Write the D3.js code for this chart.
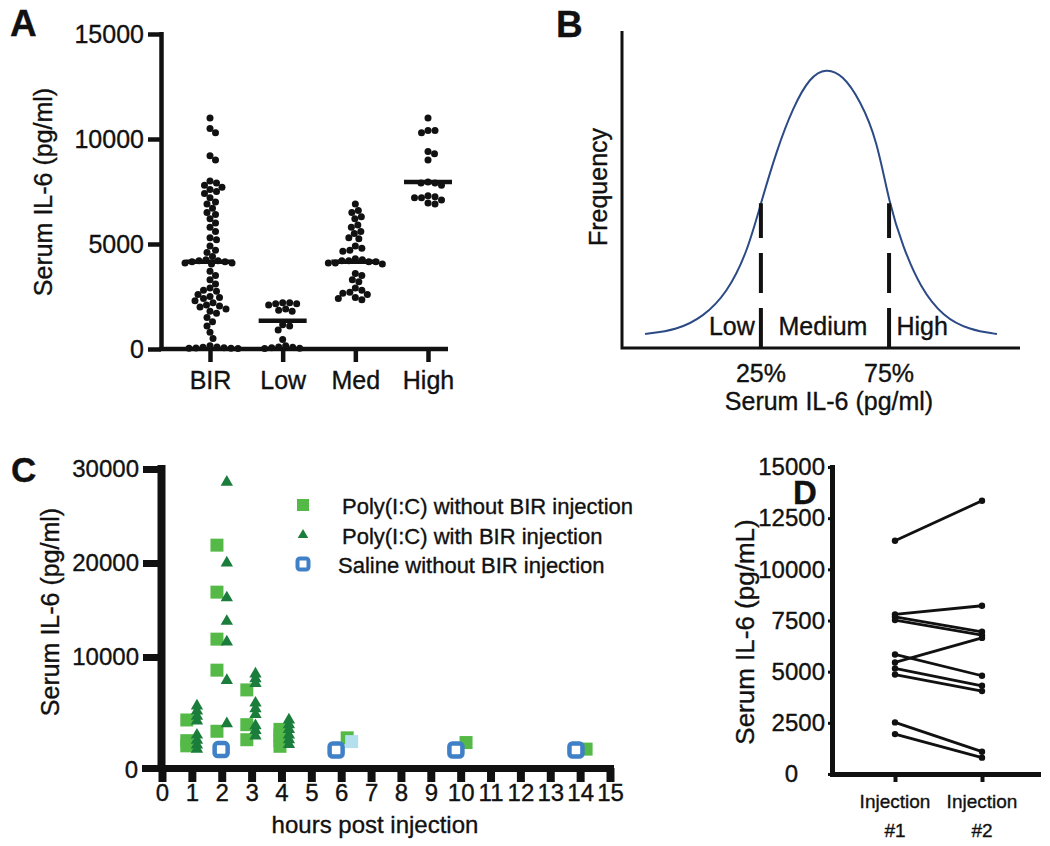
<!DOCTYPE html>
<html>
<head>
<meta charset="UTF-8">
<title>Serum IL-6 panels</title>
<style>
  body { margin: 0; background: #fff; }
  svg { display: block; font-family: "Liberation Sans", Arial, sans-serif; }
  svg text { stroke: #111; stroke-width: 0.35px; }
</style>
</head>
<body>
<script src="https://d3js.org/d3.v7.min.js"></script>
<script>
// ---------- panel A : serum IL-6 by group (pg/ml) ----------
var groupsA = ["BIR", "Low", "Med", "High"];
var birVals = [11000, 10500, 10300, 9200, 9000, 8000, 7900, 7800, 7700, 7600, 7500, 7400, 7200, 7000,
  6900, 6700, 6500, 6400, 6200, 6000, 5800, 5600, 5300, 5200, 4900, 4700, 4600, 4400, 4250, 4200,
  4200, 4150, 4150, 4100, 4100, 4050, 3700, 3500, 3300, 3100, 2900, 2800, 2750, 2600, 2500, 2450,
  2400, 2300, 2200, 2100, 2050, 2000, 1900, 1800, 1700, 1500, 1300, 1100, 800, 500, 150, 100, 80,
  60, 50, 40, 30, 20];
var lowVals = [2200, 2200, 2150, 2150, 2100, 1900, 1850, 1800, 1150, 1100, 900, 450, 150, 100, 80, 60, 40, 20];
var medVals = [6900, 6600, 6500, 6300, 6200, 5900, 5800, 5600, 5500, 5300, 5250, 4900, 4800, 4700, 4650,
  4300, 4250, 4200, 4200, 4150, 4150, 4100, 4100, 4050, 3600, 3500, 3300, 3200, 2900, 2800, 2700,
  2650, 2600, 2450, 2400, 2350];
var highVals = [11000, 10400, 10400, 10300, 9400, 9300, 9000, 7950, 7900, 7900, 7800, 7300, 7250, 7200,
  7200, 7100, 6950, 6900];
var mediansA = [4150, 1350, 4150, 7950];
var ticksA = [0, 5000, 10000, 15000];

// ---------- panel B : schematic distribution ----------
var curveX = [5.8, 13.8, 20.4, 26.4, 31.4, 34.9, 38.9, 43.0, 47.2, 51.3, 55.5, 59.8, 64.1, 67.1, 70.6, 74.9, 80.7, 87.4, 94.2];
var curveY = [4.4, 5.7, 9.8, 17.4, 30.0, 45.7, 62.5, 76.0, 85.5, 88.3, 86.1, 78.2, 65.6, 45.7, 31.9, 19.2, 9.8, 5.7, 4.4];
var quartileLabels = ["25%", "75%"];
var quartileX = [34.9, 67.1];
var quartileTop = [45.7, 45.7];
var regionLabels = ["Low", "Medium", "High"];
var regionX = [27.6, 50.5, 75.4];

// ---------- panel C : time course ([hour, pg/ml]) ----------
var polyNoBir = [[0.83, 3300], [0.83, 1100], [0.83, 550],
  [1.84, 21900], [1.84, 16900], [1.84, 11900], [1.84, 8600], [1.84, 2100],
  [2.84, 6500], [2.84, 2800], [2.84, 1200],
  [3.95, 2300], [3.95, 1700], [3.95, 1100], [3.95, 500],
  [6.2, 1400], [10.18, 900], [14.2, 200]];
var polyBir = [[1.17, 4800], [1.17, 4250], [1.17, 3700], [1.17, 3200], [1.17, 1700], [1.17, 1150], [1.17, 650], [1.17, 200],
  [2.17, 28600], [2.17, 20000], [2.17, 16300], [2.17, 13800], [2.17, 11600], [2.17, 7500], [2.17, 2900],
  [3.13, 8200], [3.13, 7700], [3.13, 7200], [3.13, 5100], [3.13, 4500], [3.13, 3900], [3.13, 2700], [3.13, 2200], [3.13, 1600],
  [4.25, 3300], [4.25, 2800], [4.25, 2300], [4.25, 1700], [4.25, 1200], [4.25, 700]];
var salineNoBir = [[1.98, 150], [5.83, 100], [9.84, 100], [13.86, 100]];
var salineExtra = [[6.35, 1000]];
var legendC = ["Poly(I:C) without BIR injection", "Poly(I:C) with BIR injection", "Saline without BIR injection"];
var hoursC = d3.range(0, 16);
var ticksC = [10000, 20000, 30000];

// ---------- panel D : paired injections (pg/mL) ----------
var injLabels = ["Injection #1", "Injection #2"];
var inj1 = [11400, 7800, 7680, 7520, 5450, 5840, 5160, 4860, 2520, 1950];
var inj2 = [13350, 8220, 6950, 6780, 6650, 4800, 4310, 4050, 1090, 800];
var ticksD = [0, 2500, 5000, 7500, 10000, 12500, 15000];

var ink = "#111";
var svg = d3.select("body").append("svg")
  .attr("width", 1050).attr("height", 846);

function panelLetter(t, x, y, size) {
  svg.append("text").attr("x", x).attr("y", y)
    .attr("font-size", size).attr("font-weight", "bold").attr("fill", ink).text(t);
}
function yLabel(t, x, y, size) {
  svg.append("text")
    .attr("transform", "translate(" + x + "," + y + ") rotate(-90)")
    .attr("text-anchor", "middle").attr("dominant-baseline", "central")
    .attr("font-size", size).attr("fill", ink).text(t);
}
function styleAxis(g, size, tickW) {
  g.select(".domain").remove();
  g.selectAll(".tick line").attr("stroke", ink).attr("stroke-width", tickW);
  g.selectAll(".tick text").attr("fill", ink).attr("font-size", size)
    .attr("font-family", "'Liberation Sans', Arial, sans-serif");
}

// simple beeswarm: nudge each dot sideways until it clears the others
function swarm(vals, cx, yScale, r) {
  var placed = [];
  vals.slice().sort(function(a, b) { return b - a; }).forEach(function(v) {
    var y = yScale(v), k = 0, x;
    while (true) {
      x = cx + (k % 2 === 1 ? 1 : -1) * Math.ceil(k / 2) * 0.5;
      var ok = placed.every(function(p) {
        return (p.x - x) * (p.x - x) + (p.y - y) * (p.y - y) >= 4 * r * r * 0.95;
      });
      if (ok) break;
      k++;
    }
    placed.push({x: x, y: y});
  });
  return placed;
}

// ================= A =================
panelLetter("A", 10, 36, 37);
var yA = d3.scaleLinear().domain([0, 15000]).range([349, 34]);
var xA = d3.scalePoint().domain(groupsA).range([210, 428]);

svg.append("line").attr("x1", 161.5).attr("x2", 161.5).attr("y1", 32).attr("y2", 351)
  .attr("stroke", ink).attr("stroke-width", 4.5);
svg.append("line").attr("x1", 159).attr("x2", 448).attr("y1", 349).attr("y2", 349)
  .attr("stroke", ink).attr("stroke-width", 4.5);

var gAy = svg.append("g").attr("transform", "translate(161,0)")
  .call(d3.axisLeft(yA).tickValues(ticksA).tickFormat(d3.format("d")).tickSize(13).tickPadding(4));
styleAxis(gAy, 25, 4.5);
var gAx = svg.append("g").attr("transform", "translate(0,349)")
  .call(d3.axisBottom(xA).tickSize(13).tickPadding(9));
styleAxis(gAx, 25, 4.5);

var seriesA = [birVals, lowVals, medVals, highVals];
seriesA.forEach(function(vals, i) {
  var pts = swarm(vals, xA(groupsA[i]), yA, 3.5);
  svg.append("g").selectAll("circle").data(pts).enter().append("circle")
    .attr("cx", function(d) { return d.x; })
    .attr("cy", function(d) { return d.y; })
    .attr("r", 3.5).attr("fill", ink);
  svg.append("line")
    .attr("x1", xA(groupsA[i]) - 24).attr("x2", xA(groupsA[i]) + 24)
    .attr("y1", yA(mediansA[i])).attr("y2", yA(mediansA[i]))
    .attr("stroke", ink).attr("stroke-width", 4.5);
});
yLabel("Serum IL-6 (pg/ml)", 43, 192, 25);

// ================= B =================
panelLetter("B", 556, 37, 37);
var xB = d3.scaleLinear().domain([0, 100]).range([622, 1020]);
var yB = d3.scaleLinear().domain([0, 100]).range([348, 31]);
svg.append("path")
  .attr("d", "M" + xB(0) + "," + yB(100) + "V" + yB(0) + "H" + xB(100))
  .attr("fill", "none").attr("stroke", ink).attr("stroke-width", 3);

var curvePts = curveX.map(function(x, i) { return [x, curveY[i]]; });
svg.append("path").datum(curvePts)
  .attr("d", d3.line().x(function(d) { return xB(d[0]); }).y(function(d) { return yB(d[1]); })
    .curve(d3.curveBasis))
  .attr("fill", "none").attr("stroke", "#2c4a86").attr("stroke-width", 2);

quartileX.forEach(function(q, i) {
  svg.append("line")
    .attr("x1", xB(q)).attr("x2", xB(q)).attr("y1", yB(0)).attr("y2", yB(quartileTop[i]))
    .attr("stroke", ink).attr("stroke-width", 4).attr("stroke-dasharray", "40,15");
  svg.append("text").attr("x", xB(q)).attr("y", 382).attr("text-anchor", "middle")
    .attr("font-size", 25).attr("fill", ink).text(quartileLabels[i]);
});
regionLabels.forEach(function(t, i) {
  svg.append("text").attr("x", xB(regionX[i])).attr("y", 335).attr("text-anchor", "middle")
    .attr("font-size", 25).attr("fill", ink).text(t);
});
svg.append("text").attr("x", 829).attr("y", 410).attr("text-anchor", "middle")
  .attr("font-size", 25).attr("fill", ink).text("Serum IL-6 (pg/ml)");
yLabel("Frequency", 598, 187, 25);

// ================= C =================
panelLetter("C", 11, 482, 35);
var xC = d3.scaleLinear().domain([0, 15]).range([162, 610]);
var yC = d3.scaleLinear().domain([0, 30000]).range([751, 469]);

svg.append("line").attr("x1", 161.5).attr("x2", 161.5).attr("y1", 465).attr("y2", 772)
  .attr("stroke", ink).attr("stroke-width", 8);
svg.append("line").attr("x1", 142).attr("x2", 614).attr("y1", 768.5).attr("y2", 768.5)
  .attr("stroke", ink).attr("stroke-width", 7);
var gCy = svg.append("g").attr("transform", "translate(161,0)")
  .call(d3.axisLeft(yC).tickValues(ticksC).tickFormat(d3.format("d")).tickSize(18).tickPadding(4));
styleAxis(gCy, 24, 7);
svg.append("text").attr("x", 138).attr("y", 769).attr("text-anchor", "end")
  .attr("dominant-baseline", "central").attr("font-size", 24).attr("fill", ink).text("0");
var gCx = svg.append("g").attr("transform", "translate(0,768)")
  .call(d3.axisBottom(xC).tickValues(hoursC).tickFormat(d3.format("d")).tickSize(14).tickPadding(2));
styleAxis(gCx, 24, 8);
svg.append("text").attr("x", 375).attr("y", 833).attr("text-anchor", "middle")
  .attr("font-size", 24).attr("fill", ink).text("hours post injection");
yLabel("Serum IL-6 (pg/ml)", 50, 612, 25);

var sq = d3.symbol(d3.symbolSquare, 169);
var tri = d3.symbol(d3.symbolTriangle, 66);
svg.append("g").selectAll("path").data(polyNoBir).enter().append("path")
  .attr("d", sq).attr("fill", "#55b948")
  .attr("transform", function(d) { return "translate(" + xC(d[0]) + "," + yC(d[1]) + ")"; });
svg.append("g").selectAll("path").data(salineExtra).enter().append("path")
  .attr("d", sq).attr("fill", "#b3e0ec")
  .attr("transform", function(d) { return "translate(" + xC(d[0]) + "," + yC(d[1]) + ")"; });
svg.append("g").selectAll("path").data(polyBir).enter().append("path")
  .attr("d", tri).attr("fill", "#1b7d3b")
  .attr("transform", function(d) { return "translate(" + xC(d[0]) + "," + yC(d[1]) + ")"; });
svg.append("g").selectAll("rect").data(salineNoBir).enter().append("rect")
  .attr("x", function(d) { return xC(d[0]) - 6.5; })
  .attr("y", function(d) { return yC(d[1]) - 6.5; })
  .attr("width", 13).attr("height", 13).attr("rx", 3)
  .attr("fill", "#fff").attr("stroke", "#3f80c6").attr("stroke-width", 4.5);

// legend
var legY = [505, 535, 564];
svg.append("rect").attr("x", 297).attr("y", legY[0] - 6).attr("width", 12).attr("height", 12).attr("fill", "#55b948");
svg.append("path").attr("d", d3.symbol(d3.symbolTriangle, 48))
  .attr("transform", "translate(303," + legY[1] + ")").attr("fill", "#1b7d3b");
svg.append("rect").attr("x", 297.5).attr("y", legY[2] - 5.5).attr("width", 11).attr("height", 11).attr("rx", 2.5)
  .attr("fill", "#fff").attr("stroke", "#3f80c6").attr("stroke-width", 4);
legendC.forEach(function(t, i) {
  svg.append("text").attr("x", i < 2 ? 342 : 338).attr("y", legY[i] + 9)
    .attr("font-size", 22).attr("fill", ink).text(t);
});

// ================= D =================
panelLetter("D", 793, 504, 33);
var xD = d3.scalePoint().domain(injLabels).range([895, 982]);
var yD = d3.scaleLinear().domain([0, 15000]).range([774, 467]);

svg.append("line").attr("x1", 832.5).attr("x2", 832.5).attr("y1", 465).attr("y2", 777)
  .attr("stroke", ink).attr("stroke-width", 5);
svg.append("line").attr("x1", 830).attr("x2", 1041).attr("y1", 774.5).attr("y2", 774.5)
  .attr("stroke", ink).attr("stroke-width", 5);
var gDy = svg.append("g").attr("transform", "translate(832,0)")
  .call(d3.axisLeft(yD).tickValues(ticksD).tickFormat(d3.format("d")).tickSize(4).tickPadding(3));
styleAxis(gDy, 24, 3);
gDy.selectAll(".tick text").filter(function(d) { return d === 0; }).attr("dx", -27);

var gDx = svg.append("g").attr("transform", "translate(0,774)")
  .call(d3.axisBottom(xD).tickSize(8).tickFormat(""));
styleAxis(gDx, 19, 4);
injLabels.forEach(function(t) {
  var parts = t.split(" ");
  var tx = svg.append("text").attr("x", xD(t)).attr("y", 808).attr("text-anchor", "middle")
    .attr("font-size", 19).attr("fill", ink);
  tx.append("tspan").attr("x", xD(t)).text(parts[0]);
  tx.append("tspan").attr("x", xD(t)).attr("dy", 29).text(parts[1]);
});
yLabel("Serum IL-6 (pg/mL)", 745, 632, 26);

var gD = svg.append("g");
inj1.forEach(function(v, i) {
  gD.append("line")
    .attr("x1", xD(injLabels[0])).attr("y1", yD(v))
    .attr("x2", xD(injLabels[1])).attr("y2", yD(inj2[i]))
    .attr("stroke", ink).attr("stroke-width", 2.8);
  gD.append("circle").attr("cx", xD(injLabels[0])).attr("cy", yD(v)).attr("r", 3.2).attr("fill", ink);
  gD.append("circle").attr("cx", xD(injLabels[1])).attr("cy", yD(inj2[i])).attr("r", 3.2).attr("fill", ink);
});
</script>
</body>
</html>
